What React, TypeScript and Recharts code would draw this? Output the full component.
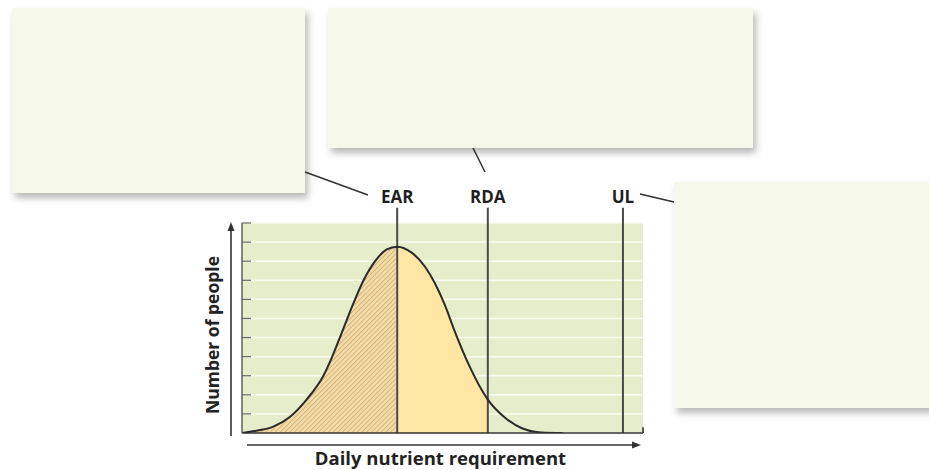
import React from 'react';
import {
  ComposedChart,
  Area,
  Line,
  XAxis,
  YAxis,
  CartesianGrid,
  ReferenceLine,
  Label,
} from 'recharts';

// Daily nutrient requirement (relative units, 0-100) and number of people (relative)
const requirement = [0, 2, 7.8, 12, 16.1, 20.3, 22.4, 24.4, 26.5, 27.8, 30.2, 33.2, 36.1, 38.7, 42.3, 45.6, 48.1, 50.6, 53.1, 56.4, 61.3, 65.6, 69.8, 74.7, 80];
const numberOfPeople = [0, 0.07, 0.33, 0.85, 1.75, 3.0, 3.95, 5.0, 6.12, 6.8, 7.95, 9.0, 9.62, 9.76, 9.45, 8.72, 7.84, 6.7, 5.3, 3.65, 1.75, 0.8, 0.25, 0.03, 0];

const EAR = 38.7;
const RDA = 61.3;
const UL = 95;
const refLabels = ['EAR', 'RDA', 'UL'];
const refValues = [EAR, RDA, UL];
const yTicks = [1, 2, 3, 4, 5, 6, 7, 8, 9, 10, 11];
const xTitle = 'Daily nutrient requirement';
const yTitle = 'Number of people';

const chartData = requirement.map((x, i) => ({
  x,
  people: numberOfPeople[i],
  below: x <= EAR ? numberOfPeople[i] : null,
  between: x >= EAR && x <= RDA ? numberOfPeople[i] : null,
}));

const FONT = '"Open Sans", "DejaVu Sans", sans-serif';

const boxStyle = (left: number, top: number, width: number, height: number): React.CSSProperties => ({
  position: 'absolute',
  left,
  top,
  width,
  height,
  background: '#F6F8E9',
  boxShadow: '3px 5px 7px rgba(0,0,0,0.28)',
});

const EmptyTick = () => <g />;

const YTitle = (props: any) => {
  const vb = props.viewBox || {};
  const top = vb.y ?? 223;
  const h = vb.height ?? 210;
  const cx = 212;
  const cy = top + h / 2 + 7;
  return (
    <text
      x={cx}
      y={cy}
      transform={`rotate(-90 ${cx} ${cy})`}
      textAnchor="middle"
      dominantBaseline="central"
      fontFamily={FONT}
      fontWeight={700}
      fontSize={17.5}
      fill="#222222"
    >
      {yTitle}
    </text>
  );
};

export default function App() {
  return (
    <div style={{ position: 'absolute', left: 0, top: 0, width: 929, height: 470, background: '#ffffff', overflow: 'hidden' }}>
      <div style={boxStyle(12, 8, 293, 185)} />
      <div style={boxStyle(328, 8, 425, 140)} />
      <div style={boxStyle(674, 182, 262, 226)} />
      <div style={{ position: 'absolute', left: 0, top: 0 }}>
        <ComposedChart
          width={929}
          height={470}
          data={chartData}
          margin={{ top: 223, right: 286, bottom: 0, left: 242 }}
        >
          <defs>
            <pattern id="hatch" patternUnits="userSpaceOnUse" width="3.4" height="3.4" patternTransform="rotate(45)">
              <rect x="0" y="0" width="3.4" height="3.4" fill="#F2DBA6" />
              <line x1="0" y1="0" x2="0" y2="3.4" stroke="#C9A66A" strokeWidth="1.3" />
            </pattern>
          </defs>
          <CartesianGrid
            vertical={false}
            horizontal={true}
            fill="#E6EDCA"
            fillOpacity={1}
            stroke="#FAFBF1"
            strokeWidth={1.5}
          />
          <XAxis
            type="number"
            dataKey="x"
            domain={[0, 100]}
            tick={EmptyTick}
            tickLine={false}
            height={37}
            axisLine={{ stroke: '#333333', strokeWidth: 1.6 }}
            allowDataOverflow
          >
            <Label
              value={xTitle}
              position="insideBottom"
              offset={5}
              dx={-2}
              fontFamily={FONT}
              fontWeight={700}
              fontSize={18.5}
              fill="#222222"
            />
          </XAxis>
          <YAxis
            type="number"
            domain={[0, 11]}
            ticks={yTicks}
            interval={0}
            tick={EmptyTick}
            tickSize={9}
            mirror
            width={10}
            axisLine={{ stroke: '#555555', strokeWidth: 1.4 }}
            tickLine={{ stroke: '#666666', strokeWidth: 1.2 }}
            allowDataOverflow
          >
            <Label content={<YTitle />} />
          </YAxis>
          <Area
            type="monotone"
            dataKey="below"
            stroke="none"
            fill="url(#hatch)"
            fillOpacity={1}
            isAnimationActive={false}
            activeDot={false}
            dot={false}
          />
          <Area
            type="monotone"
            dataKey="between"
            stroke="none"
            fill="#FFE6A4"
            fillOpacity={1}
            isAnimationActive={false}
            activeDot={false}
            dot={false}
          />
          <ReferenceLine
            segment={[{ x: 100, y: 0.3 }, { x: 100, y: 0 }]}
            ifOverflow="visible"
            stroke="#333333"
            strokeWidth={1.6}
          />
          {refValues.map((v, i) => (
            <ReferenceLine
              key={refLabels[i]}
              segment={[{ x: v, y: 11.8 }, { x: v, y: 0 }]}
              ifOverflow="visible"
              stroke="#4a4a4a"
              strokeWidth={2}
            >
              <Label
                value={refLabels[i]}
                position="top"
                offset={5}
                fontFamily={FONT}
                fontWeight={700}
                fontSize={17}
                fill="#1f1f1f"
              />
            </ReferenceLine>
          ))}
          <Line
            type="monotone"
            dataKey="people"
            stroke="#2a2a2a"
            strokeWidth={2}
            dot={false}
            activeDot={false}
            isAnimationActive={false}
          />
        </ComposedChart>
      </div>
      <svg width={929} height={470} style={{ position: 'absolute', left: 0, top: 0, pointerEvents: 'none' }}>
        <g stroke="#333333" strokeWidth={1.6} fill="none">
          <line x1={305} y1={172} x2={368} y2={195} />
          <line x1={473} y1={148} x2={485} y2={172} />
          <line x1={640} y1={194} x2={674} y2={202} />
          <line x1={231} y1={436} x2={231} y2={228} />
          <line x1={247} y1={445} x2={634} y2={445} />
        </g>
        <polygon points="231,222 227.5,231 234.5,231" fill="#333333" />
        <polygon points="641,445 632,441.5 632,448.5" fill="#333333" />
      </svg>
    </div>
  );
}
